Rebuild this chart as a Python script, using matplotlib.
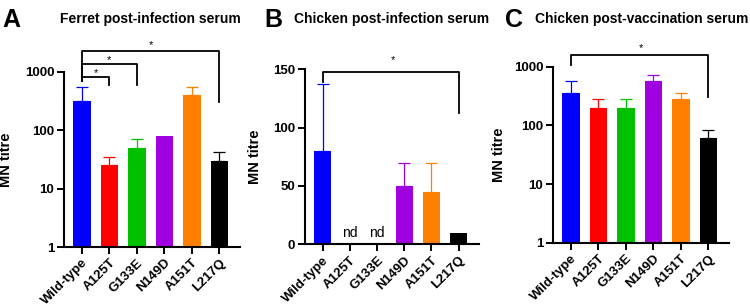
import matplotlib
matplotlib.use('Agg')

import numpy as np
import matplotlib.pyplot as plt
from matplotlib.ticker import FixedLocator, NullLocator

plt.rcParams['font.family'] = ['Liberation Sans', 'DejaVu Sans']

strains = ['Wild-type', 'A125T', 'G133E', 'N149D', 'A151T', 'L217Q']
colors = ['#0000ff', '#ff0000', '#00c000', '#a000e0', '#ff8000', '#000000']

# panel A: ferret post-infection serum (mean, upper error bar end)
ferret_mean = [320, 25, 50, 80, 400, 30]
ferret_err = [550, 35, 70, np.nan, 560, 42]

# panel B: chicken post-infection serum (nd = not detected)
chicken_inf_mean = [80, 0, 0, 50, 45, 10]
chicken_inf_err = [137, np.nan, np.nan, 70, 70, np.nan]
chicken_inf_nd = ['', 'nd', 'nd', '', '', '']

# panel C: chicken post-vaccination serum
chicken_vac_mean = [350, 200, 200, 560, 280, 60]
chicken_vac_err = [560, 280, 280, 720, 350, 82]

fig = plt.figure(figsize=(7.5, 3.07), dpi=100)
axA = fig.add_axes([0.0853, 0.1954, 0.2347, 0.5701])
axB = fig.add_axes([0.4067, 0.2042, 0.2320, 0.5701])
axC = fig.add_axes([0.7373, 0.2094, 0.2347, 0.5733])

x = np.arange(len(strains))


def draw(ax, mean, err, log):
    ax.bar(x, mean, width=0.64, color=colors, zorder=2)
    for i in range(len(x)):
        if np.isnan(err[i]):
            continue
        ax.errorbar(x[i], mean[i], yerr=[[0], [err[i] - mean[i]]], color=colors[i],
                    lw=0.9, capsize=4.5, capthick=0.9, zorder=1)
    if log:
        ax.set_yscale('log')
    ax.set_xlim(-0.65, 5.75)
    for s in ['top', 'right']:
        ax.spines[s].set_visible(False)
    for s in ['left', 'bottom']:
        ax.spines[s].set_linewidth(1.5)
    ax.tick_params(axis='both', length=5, width=1.4, pad=2)
    ax.set_xticks(x)
    ax.set_xticklabels(strains, rotation=45, ha='right', va='top',
                       rotation_mode='anchor', fontsize=9.5, fontweight='bold')
    for t in ax.get_yticklabels():
        t.set_fontweight('bold')
    ax.set_ylabel('MN titre', fontsize=10.5, fontweight='bold')


def bracket(ax, x0, x1, y, yl, yr, ys, tx):
    ax.plot([x0, x0, x1, x1], [yl, y, y, yr], color='black', lw=1.3,
            clip_on=False, zorder=3)
    ax.text(tx, ys, '*', ha='center', va='center', fontsize=8, clip_on=False)


# A
draw(axA, ferret_mean, ferret_err, True)
axA.set_ylim(1, 1000)
axA.yaxis.set_major_locator(FixedLocator([1, 10, 100, 1000]))
axA.yaxis.set_minor_locator(NullLocator())
axA.set_yticklabels(['1', '10', '100', '1000'], fontsize=9.5, fontweight='bold')
axA.yaxis.set_label_coords(-0.29, 0.5)
bracket(axA, 0, 5, 2270, 690, 300, 2840, 2.5)
bracket(axA, 0, 2, 1360, 690, 600, 1620, 1.0)
bracket(axA, 0, 1, 810, 690, 600, 970, 0.5)

# B
draw(axB, chicken_inf_mean, chicken_inf_err, False)
axB.set_ylim(0, 150)
axB.set_yticks([0, 50, 100, 150])
axB.set_yticklabels(['0', '50', '100', '150'], fontsize=9.5, fontweight='bold')
axB.yaxis.set_label_coords(-0.245, 0.5)
for i, lab in enumerate(chicken_inf_nd):
    if lab:
        axB.text(x[i], 6.5, lab, ha='center', va='baseline', fontsize=10)
bracket(axB, 0, 5, 147.4, 139.4, 112.3, 158, 2.6)

# C
draw(axC, chicken_vac_mean, chicken_vac_err, True)
axC.set_ylim(1, 1000)
axC.yaxis.set_major_locator(FixedLocator([1, 10, 100, 1000]))
axC.yaxis.set_minor_locator(NullLocator())
axC.set_yticklabels(['1', '10', '100', '1000'], fontsize=9.5, fontweight='bold')
axC.yaxis.set_label_coords(-0.265, 0.5)
bracket(axC, 0, 5, 1580, 1070, 300, 2100, 2.55)

# panel letters and titles
fig.text(0.003, 0.935, 'A', fontsize=18, fontweight='bold', va='center')
fig.text(0.353, 0.935, 'B', fontsize=18, fontweight='bold', va='center')
fig.text(0.673, 0.935, 'C', fontsize=18, fontweight='bold', va='center')
fig.text(0.2007, 0.938, 'Ferret post-infection serum', fontsize=10,
         fontweight='bold', ha='center', va='center')
fig.text(0.5223, 0.938, 'Chicken post-infection serum', fontsize=10,
         fontweight='bold', ha='center', va='center')
fig.text(0.855, 0.938, 'Chicken post-vaccination serum', fontsize=10,
         fontweight='bold', ha='center', va='center')

fig.savefig('out.png', dpi=100)
